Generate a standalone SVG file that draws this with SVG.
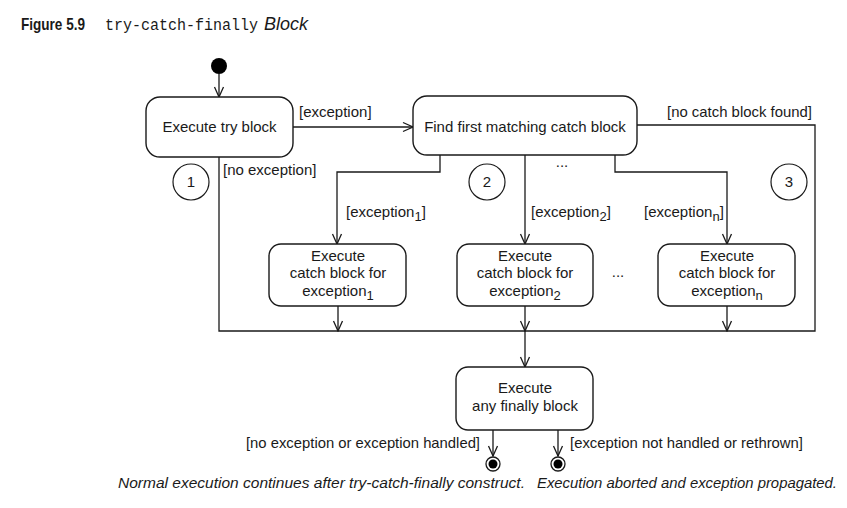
<svg xmlns="http://www.w3.org/2000/svg" width="847" height="508" viewBox="0 0 847 508">
<style>
text{font-family:"Liberation Sans",Arial,sans-serif;font-size:15px;fill:#1a1a1a}
.c{text-anchor:middle}
.it{font-style:italic}
.box{fill:#fff;stroke:#1a1a1a;stroke-width:1.4}
.ln{fill:none;stroke:#1a1a1a;stroke-width:1.3}
.arr{fill:none;stroke:#1a1a1a;stroke-width:1.3;marker-end:url(#ah)}
.num{fill:#fff;stroke:#1a1a1a;stroke-width:1.2}
</style>
<defs>
<marker id="ah" markerUnits="userSpaceOnUse" viewBox="-1 -1 12 12" refX="10" refY="5" markerWidth="12" markerHeight="12" orient="auto">
<path d="M0,0.5 L10,5 L0,9.5" fill="none" stroke="#1a1a1a" stroke-width="1.3"/>
</marker>
</defs>
<rect width="847" height="508" fill="#fff"/>
<g id="title">
<text x="21" y="30" style="font-weight:bold;font-size:17px" textLength="64" lengthAdjust="spacingAndGlyphs">Figure 5.9</text>
<text x="105" y="30" style="font-family:'Liberation Mono',monospace;font-size:16px" textLength="153" lengthAdjust="spacingAndGlyphs">try-catch-finally</text>
<text x="264" y="30" class="it" style="font-size:18px">Block</text>
</g>
<g id="connectors">
<path class="arr" d="M219,74 V97"/>
<path class="arr" d="M293,127 H413"/>
<path class="ln" d="M219,157 V331 H815 V125 H637"/>
<path class="arr" d="M440,155 V172 H337 V244"/>
<path class="arr" d="M525,155 V244"/>
<path class="arr" d="M615,155 V172 H727 V244"/>
<path class="arr" d="M338,306 V331"/>
<path class="arr" d="M525,306 V331"/>
<path class="arr" d="M727,306 V331"/>
<path class="arr" d="M525,331 V367"/>
<path class="arr" d="M493,430 V456"/>
<path class="arr" d="M558,430 V456"/>
<text x="299" y="117">[exception]</text>
<text x="223" y="175">[no exception]</text>
<text x="667" y="117" textLength="145" lengthAdjust="spacingAndGlyphs">[no catch block found]</text>
<text x="346" y="217">[exception<tspan dy="4" font-size="13">1</tspan><tspan dy="-4">]</tspan></text>
<text x="531" y="217">[exception<tspan dy="4" font-size="13">2</tspan><tspan dy="-4">]</tspan></text>
<text x="644" y="217">[exception<tspan dy="4" font-size="13">n</tspan><tspan dy="-4">]</tspan></text>
<text x="562" y="167" class="c">...</text>
<text x="480" y="448" style="text-anchor:end" textLength="234" lengthAdjust="spacingAndGlyphs">[no exception or exception handled]</text>
<text x="570" y="448" textLength="233" lengthAdjust="spacingAndGlyphs">[exception not handled or rethrown]</text>
</g>
<g id="start"><circle cx="219" cy="66" r="8" fill="#000"/></g>
<g id="try">
<rect class="box" x="146" y="97" width="147" height="60" rx="14"/>
<text x="219.5" y="132" class="c">Execute try block</text>
</g>
<g id="find">
<rect class="box" x="413" y="96" width="224" height="59" rx="14"/>
<text x="525" y="132" class="c">Find first matching catch block</text>
</g>
<g id="n1"><circle class="num" cx="191" cy="182" r="18"/><text x="191" y="187" class="c">1</text></g>
<g id="n2"><circle class="num" cx="487" cy="182" r="18"/><text x="487" y="187" class="c">2</text></g>
<g id="n3"><circle class="num" cx="789" cy="182" r="18"/><text x="789" y="187" class="c">3</text></g>
<g id="catch1">
<rect class="box" x="269" y="244" width="137" height="62" rx="12"/>
<text x="338" y="261" class="c">Execute</text>
<text x="338" y="278" class="c">catch block for</text>
<text x="338" y="296" class="c">exception<tspan dy="4" font-size="13">1</tspan></text>
</g>
<g id="catch2">
<rect class="box" x="457" y="244" width="136" height="62" rx="12"/>
<text x="525" y="261" class="c">Execute</text>
<text x="525" y="278" class="c">catch block for</text>
<text x="525" y="296" class="c">exception<tspan dy="4" font-size="13">2</tspan></text>
</g>
<text x="618" y="277" class="c">...</text>
<g id="catchn">
<rect class="box" x="658" y="244" width="137" height="62" rx="12"/>
<text x="727" y="261" class="c">Execute</text>
<text x="727" y="278" class="c">catch block for</text>
<text x="727" y="296" class="c">exception<tspan dy="4" font-size="13">n</tspan></text>
</g>
<g id="finally">
<rect class="box" x="456" y="367" width="137" height="63" rx="12"/>
<text x="525" y="393" class="c">Execute</text>
<text x="525" y="411" class="c">any finally block</text>
</g>
<g id="end1">
<circle cx="493" cy="464" r="7" fill="#fff" stroke="#1a1a1a" stroke-width="1.3"/>
<circle cx="493" cy="464" r="4.5" fill="#000"/>
<text x="118" y="488" class="it" textLength="407" lengthAdjust="spacingAndGlyphs">Normal execution continues after try-catch-finally construct.</text>
</g>
<g id="end2">
<circle cx="558" cy="464" r="7" fill="#fff" stroke="#1a1a1a" stroke-width="1.3"/>
<circle cx="558" cy="464" r="4.5" fill="#000"/>
<text x="537" y="488" class="it" textLength="300" lengthAdjust="spacingAndGlyphs">Execution aborted and exception propagated.</text>
</g>
</svg>
